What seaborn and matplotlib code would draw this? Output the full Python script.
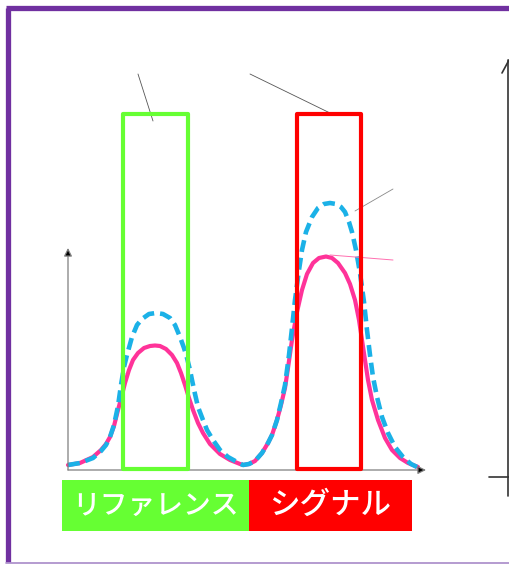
import numpy as np
import pandas as pd
import matplotlib.pyplot as plt
import seaborn as sns
from matplotlib.patches import Rectangle

# ── Data (x: position along axis, y: intensity) ───────────────────────────────
sample_x = [0, 12, 25, 33, 38, 42, 46, 50, 54, 57, 61, 65, 70, 76, 82, 87, 92, 98,
            104, 109, 113, 117, 121, 125, 130, 135, 142, 152, 162, 172, 175,
            181, 187, 194, 200, 204, 209, 213, 217, 220, 224, 229, 234, 239, 245,
            251, 258, 264, 270, 277, 282, 287, 291, 294, 297, 300, 304, 310, 317,
            324, 332, 340, 350]
sample_y = [5, 7, 13, 20, 26, 33, 44, 60, 75, 87, 100, 110, 117, 122, 124, 124.5, 124, 121,
            115, 107, 97, 85, 72, 60, 47, 37, 26, 16, 10, 6, 5,
            6, 9, 17, 27, 35, 50, 65, 82, 102, 130, 158, 180, 196, 207,
            212, 213.5, 212, 207, 197, 186, 170, 150, 130, 110, 90, 70, 50, 32,
            20, 12, 7, 3]

blank_x = [0, 12, 25, 33, 38, 42, 46, 50, 53, 56, 59, 64, 69, 74, 81, 88, 95, 102,
           107, 112, 116, 119, 122, 124, 127, 130, 135, 139, 145, 152, 160, 169, 175,
           181, 187, 194, 200, 204, 209, 213, 217, 221, 224, 227, 231, 234, 238, 244,
           250, 256, 262, 268, 273, 277, 281, 284, 288, 292, 296, 299, 302, 305, 309,
           314, 320, 327, 335, 343, 349]
blank_y = [5, 7, 12, 19, 25, 33, 45, 64, 85, 103, 115, 133, 145, 151, 156, 157, 156, 152,
           145, 133, 122, 112, 100, 90, 76, 63, 50, 40, 30, 20, 13, 8, 5,
           6, 9, 17, 27, 35, 50, 67, 85, 115, 142, 170, 200, 220, 238, 253,
           262, 266, 267, 266, 263, 258, 248, 238, 220, 197, 168, 140, 115, 93, 73,
           53, 37, 23, 13, 6, 3]

ref_window = (55, 120)
sig_window = (229, 293)
window_top = 356

labels = ["リファレンス", "シグナル"]
label_spans = [(-6, 181), (181, 344)]
label_colors = ["#66FF33", "#FF0000"]

# ── Style ─────────────────────────────────────────────────────────────────────
sns.set_theme(style="white")
plt.rcParams["font.family"] = ["Noto Sans CJK JP", "DejaVu Sans"]

fig = plt.figure(figsize=(5.1, 5.64), dpi=100)
ax = fig.add_axes([0, 0, 1, 1])
ax.set_xlim(-68, 442)
ax.set_ylim(-94, 470)
ax.axis("off")

# frame
ax.plot([-59.5, -59.5], [-92, 462], color="#7030A0", lw=3.8, solid_capstyle="butt")
ax.plot([-62, 450], [462.5, 462.5], color="#7030A0", lw=3.8, solid_capstyle="butt")
ax.plot([-62, 450], [-92.5, -92.5], color="#A88AC8", lw=1.2)

# axes arrows
for tip in [(0, 222), (358, 0)]:
    ax.annotate("", xy=tip, xytext=(0, 0),
                arrowprops=dict(arrowstyle="-|>", color="#7F7F7F", lw=0.9,
                                mutation_scale=12, shrinkA=0, shrinkB=0,
                                fc="black", ec="#7F7F7F"))

# curves
df_s = pd.DataFrame({"x": sample_x, "y": sample_y})
df_b = pd.DataFrame({"x": blank_x, "y": blank_y})
sns.lineplot(data=df_s, x="x", y="y", ax=ax, color="#FF3399", lw=3.0,
             solid_capstyle="round", solid_joinstyle="round")
sns.lineplot(data=df_b, x="x", y="y", ax=ax, color="#1BB1E7", lw=3.3,
             linestyle=(0, (2.6, 1.3)), dash_joinstyle="round")

# windows
for (x0, x1), c in zip([ref_window, sig_window], ["#66FF33", "#FF0000"]):
    ax.add_patch(Rectangle((x0, 1), x1 - x0, window_top - 1, fill=False,
                           ec=c, lw=3.0, joinstyle="round", zorder=4))

# leader lines
ax.plot([70, 85], [396, 349], color="#555555", lw=0.6)
ax.plot([182, 262], [396, 357], color="#555555", lw=0.6)
ax.plot([325, 287], [281, 259], color="#888888", lw=0.6)
ax.plot([325, 262], [210, 215], color="#FF6FB0", lw=0.7)

# labels
for lab, (x0, x1), c, fs in zip(labels, label_spans, label_colors, [20, 22]):
    ax.add_patch(Rectangle((x0, -61), x1 - x0, 51, fc=c, ec="none", zorder=3))
    ax.text((x0 + x1) / 2, -35, lab, color="white", fontsize=fs, fontweight="medium",
            ha="center", va="center", zorder=5)

# partial second axis on the right
ax.plot([440, 440], [-26, 410], color="#333333", lw=1.2)
ax.plot([434, 441], [397, 410], color="#333333", lw=1.2)
ax.plot([421, 442], [-7, -7], color="#333333", lw=1.2)

fig.savefig("out.png", dpi=100)
